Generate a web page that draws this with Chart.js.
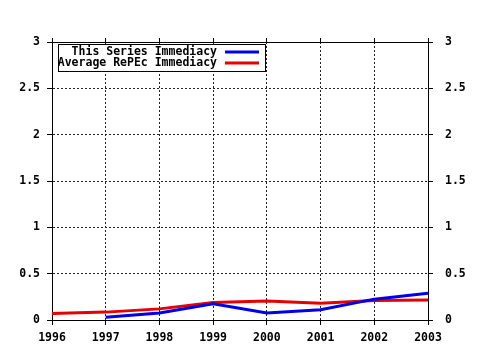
<!DOCTYPE html>
<html>
<head>
<meta charset="utf-8">
<script src="https://cdn.jsdelivr.net/npm/chart.js@4/dist/chart.umd.min.js"></script>
<style>
    html, body { margin: 0; padding: 0; background: #fff; }
    #wrap { width: 480px; height: 350px; }
</style>
</head>
<body>
<div id="wrap"><canvas id="immediacyChart" width="480" height="350"></canvas></div>
<script>
// Years on the x axis
const years = [1996, 1997, 1998, 1999, 2000, 2001, 2002, 2003];
// Series values (null = no value that year)
const seriesImmediacy = [null, 0.03, 0.075, 0.175, 0.075, 0.11, 0.225, 0.29];
const repecImmediacy = [0.07, 0.085, 0.12, 0.19, 0.205, 0.18, 0.21, 0.215];
const seriesLabels = ['This Series Immediacy', 'Average RePEc Immediacy'];
const seriesColors = ['#0000e6', '#e60000'];
// Y tick values
const yTicks = [0, 0.5, 1, 1.5, 2, 2.5, 3];

const FONT = { family: '"DejaVu Sans Mono", monospace', size: 11.5, weight: 'bold' };

function toPoints(values) {
    return years.map((yr, i) => ({ x: yr, y: values[i] }));
}

// Legend box drawn in the top-left corner of the plot
const boxLegend = {
    id: 'boxLegend',
    afterDraw(chart) {
        const ctx = chart.ctx;
        const area = chart.chartArea;
        const left = area.left + 6;
        const top = area.top + 2;
        const width = 207;
        const height = 27;
        ctx.save();
        ctx.fillStyle = '#fff';
        ctx.fillRect(left, top, width, height);
        ctx.strokeStyle = '#000';
        ctx.lineWidth = 1;
        ctx.strokeRect(left + 0.5, top + 0.5, width, height);
        ctx.font = 'bold 11.5px "DejaVu Sans Mono", monospace';
        ctx.textAlign = 'right';
        ctx.textBaseline = 'middle';
        seriesLabels.forEach((label, i) => {
            const y = top + 8 + i * 11;
            ctx.fillStyle = '#000';
            ctx.fillText(label, left + 159, y);
            ctx.strokeStyle = seriesColors[i];
            ctx.lineWidth = 3;
            ctx.beginPath();
            ctx.moveTo(left + 167, y);
            ctx.lineTo(left + 201, y);
            ctx.stroke();
        });
        ctx.restore();
    }
};

const ctx = document.getElementById('immediacyChart').getContext('2d');
const immediacyChart = new Chart(ctx, {
    type: 'line',
    data: {
        datasets: [
            {
                label: seriesLabels[0],
                data: toPoints(seriesImmediacy),
                borderColor: seriesColors[0],
                borderWidth: 3,
                pointRadius: 0,
                tension: 0,
                xAxisID: 'x',
                yAxisID: 'y'
            },
            {
                label: seriesLabels[1],
                data: toPoints(repecImmediacy),
                borderColor: seriesColors[1],
                borderWidth: 3,
                pointRadius: 0,
                tension: 0,
                xAxisID: 'x',
                yAxisID: 'y'
            }
        ]
    },
    options: {
        responsive: false,
        animation: false,
        layout: { padding: 0 },
        plugins: {
            legend: { display: false },
            tooltip: { enabled: false }
        },
        scales: {
            x: {
                type: 'linear',
                position: 'bottom',
                min: 1996,
                max: 2003,
                afterBuildTicks: (scale) => { scale.ticks = years.map(v => ({ value: v })); },
                afterFit: (scale) => { scale.height = 30; },
                grid: { color: '#222', lineWidth: 1, tickLength: 5, tickColor: '#000' },
                border: { color: '#000', width: 1, dash: [2, 2] },
                ticks: { color: '#000', font: FONT, padding: 6, maxRotation: 0, callback: v => String(v) }
            },
            xTop: {
                type: 'linear',
                position: 'top',
                min: 1996,
                max: 2003,
                afterBuildTicks: (scale) => { scale.ticks = years.map(v => ({ value: v })); },
                afterFit: (scale) => { scale.height = 42; },
                grid: { drawOnChartArea: false, tickLength: 4, tickColor: '#000' },
                border: { color: '#000', width: 1 },
                ticks: { display: false }
            },
            y: {
                type: 'linear',
                position: 'left',
                min: 0,
                max: 3,
                afterBuildTicks: (scale) => { scale.ticks = yTicks.map(v => ({ value: v })); },
                afterFit: (scale) => { scale.width = 52; },
                grid: { color: '#222', lineWidth: 1, tickLength: 5, tickColor: '#000' },
                border: { color: '#000', width: 1, dash: [2, 2] },
                ticks: { color: '#000', font: FONT, padding: 7, callback: v => String(v) }
            },
            yRight: {
                type: 'linear',
                position: 'right',
                min: 0,
                max: 3,
                afterBuildTicks: (scale) => { scale.ticks = yTicks.map(v => ({ value: v })); },
                afterFit: (scale) => { scale.width = 52; },
                grid: { drawOnChartArea: false, tickLength: 5, tickColor: '#000' },
                border: { color: '#000', width: 1 },
                ticks: { color: '#000', font: FONT, padding: 12, callback: v => String(v) }
            }
        }
    },
    plugins: [boxLegend]
});
</script>
</body>
</html>
